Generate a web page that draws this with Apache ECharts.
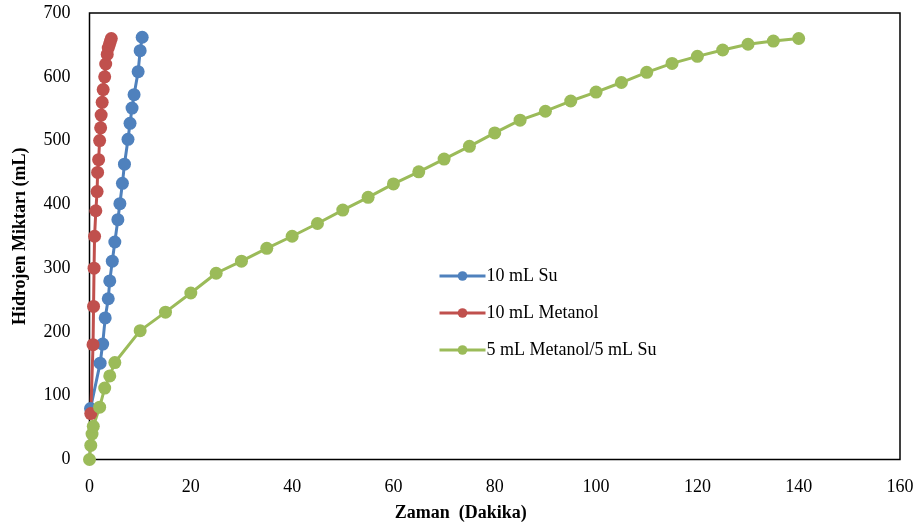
<!DOCTYPE html>
<html>
<head>
<meta charset="utf-8">
<script src="https://cdn.jsdelivr.net/npm/echarts@6/dist/echarts.min.js"></script>
<style>
html,body{margin:0;padding:0;background:#fff;}
#chart{width:918px;height:528px;}
</style>
</head>
<body>
<div id="chart"></div>
<script>
var seriesNames = ['10 mL Su', '10 mL Metanol', '5 mL Metanol/5 mL Su'];

var suX = [0.2, 2.1, 2.6, 3.1, 3.7, 4.0, 4.5, 5.0, 5.6, 6.0, 6.5, 6.9, 7.6, 8.0, 8.4, 8.8, 9.6, 10.0, 10.4];
var suY = [80, 151, 181, 222, 252, 280, 311, 341, 376, 401, 433, 463, 502, 527, 551, 572, 608, 641, 662];

var metX = [0.25, 0.7, 0.8, 0.9, 1.0, 1.25, 1.5, 1.6, 1.8, 2.0, 2.2, 2.3, 2.5, 2.7, 3.0, 3.2, 3.5, 3.7, 3.9, 4.1, 4.3];
var metY = [72, 180, 240, 300, 350, 390, 420, 450, 470, 500, 520, 540, 560, 580, 600, 620, 635, 645, 650, 655, 660];

var mixX = [0, 0.25, 0.5, 0.75, 2, 3, 4, 5, 10, 15, 20, 25, 30, 35, 40, 45, 50, 55, 60, 65, 70, 75, 80, 85, 90, 95, 100, 105, 110, 115, 120, 125, 130, 135, 140];
var mixY = [0, 22, 40, 52, 82, 112, 131, 152, 202, 231, 261, 292, 311, 331, 350, 370, 391, 411, 432, 451, 471, 491, 512, 532, 546, 562, 576, 591, 607, 621, 632, 642, 651, 656, 660];

var colors = ['#4F81BD', '#C0504D', '#9BBB59'];

function pairs(xs, ys) {
  var out = [];
  for (var i = 0; i < xs.length; i++) out.push([xs[i], ys[i]]);
  return out;
}

var font = '"Liberation Serif", "Times New Roman", serif';
var chart = echarts.init(document.getElementById('chart'));

function mkSeries(name, data, color) {
  return {
    name: name,
    type: 'line',
    data: data,
    symbol: 'circle',
    symbolSize: 13,
    showSymbol: true,
    smooth: false,
    lineStyle: { width: 3, color: color },
    itemStyle: { color: color },
    emphasis: { disabled: true },
    animation: false
  };
}

chart.setOption({
  animation: false,
  grid: {
    left: 89.5, right: 18, top: 13, bottom: 68.5,
    show: true, borderColor: '#000', borderWidth: 1.5, backgroundColor: 'transparent'
  },
  legend: {
    orient: 'vertical',
    left: 433,
    top: 262,
    itemWidth: 46,
    itemHeight: 12,
    itemGap: 19,
    lineStyle: { width: 3 },
    textStyle: { fontFamily: font, fontSize: 18, color: '#000', padding: [0, 0, 0, -4] },
    data: seriesNames
  },
  xAxis: {
    type: 'value',
    min: 0, max: 160, interval: 20,
    name: 'Zaman  (Dakika)',
    nameLocation: 'middle',
    nameGap: 45,
    nameTextStyle: { fontFamily: font, fontSize: 18, fontWeight: 'bold', color: '#000', padding: [0, 68, 0, 0] },
    axisLine: { show: false },
    axisTick: { show: false },
    splitLine: { show: false },
    axisLabel: { fontFamily: font, fontSize: 18, color: '#000', margin: 19 }
  },
  yAxis: {
    type: 'value',
    min: 0, max: 700, interval: 100,
    name: 'Hidrojen Miktarı (mL)',
    nameLocation: 'middle',
    nameGap: 60,
    nameTextStyle: { fontFamily: font, fontSize: 18, fontWeight: 'bold', color: '#000' },
    axisLine: { show: false },
    axisTick: { show: false },
    splitLine: { show: false },
    axisLabel: { fontFamily: font, fontSize: 18, color: '#000', margin: 19 }
  },
  series: [
    mkSeries(seriesNames[0], pairs(suX, suY), colors[0]),
    mkSeries(seriesNames[1], pairs(metX, metY), colors[1]),
    mkSeries(seriesNames[2], pairs(mixX, mixY), colors[2])
  ]
});
</script>
</body>
</html>
